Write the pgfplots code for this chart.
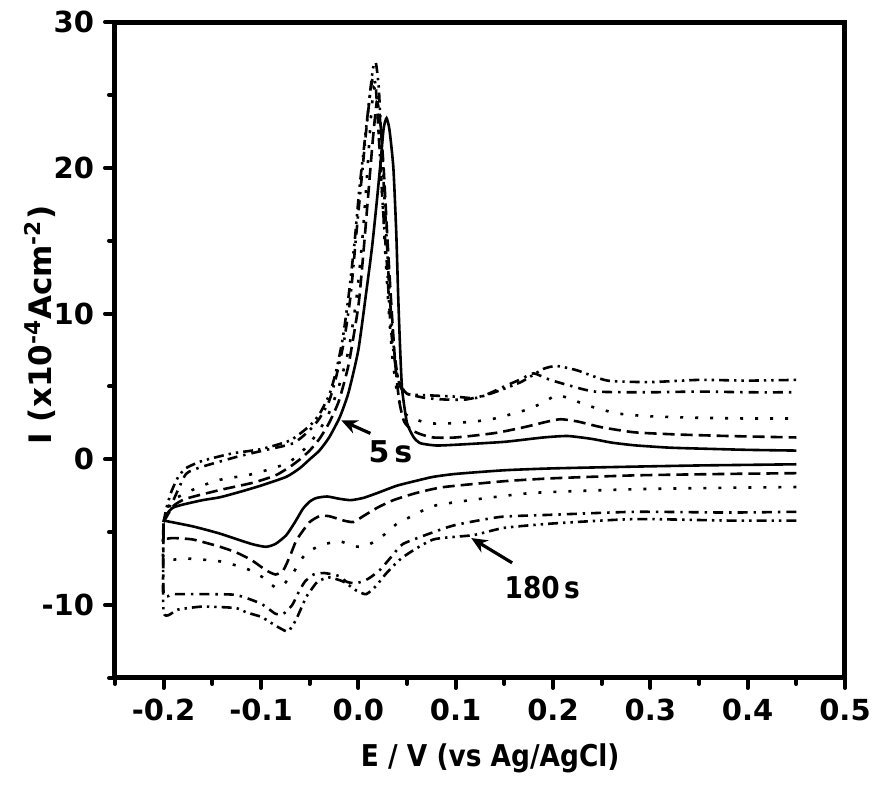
\documentclass[border=0pt]{standalone}
\usepackage{fontspec}
\setmainfont{DejaVu Sans}
\usepackage{graphicx}
\usepackage{pgfplots}
\pgfplotsset{compat=1.18}
\usetikzlibrary{arrows.meta}
\begin{document}
\begin{tikzpicture}
\begin{axis}[name=ax, scale only axis, width=365pt, height=328pt,
  xmin=-0.25, xmax=0.5, ymin=-15, ymax=30,
  axis line style={line width=2.5pt, line cap=round},
  tick pos=left, tick align=outside,
  xtick={-0.2,-0.1,0,0.1,0.2,0.3,0.4,0.5},
  xticklabels={-0.2,-0.1,0.0,0.1,0.2,0.3,0.4,0.5},
  minor xtick={-0.25,-0.15,-0.05,0.05,0.15,0.25,0.35,0.45},
  ytick={-10,0,10,20,30}, yticklabels={-10,0,10,20,30},
  minor ytick={-15,-5,5,15,25},
  major tick length=5pt, minor tick length=3pt,
  every tick/.style={line width=2pt, black, line cap=round},
  tick label style={font=\fontsize{14.5}{16}\selectfont\bfseries},
  xticklabel style={yshift=-2pt},
  yticklabel style={xshift=-2pt},
  xlabel={\scalebox{0.88}[1]{E / V (vs Ag/AgCl)}},
  xlabel style={at={(axis description cs:0.514,-0.122)}, anchor=center, font=\fontsize{15}{18}\selectfont\bfseries},
  ylabel={I (x10\textsuperscript{-4}Acm\textsuperscript{-2})},
  ylabel style={at={(axis description cs:-0.103,0.538)}, anchor=center, font=\fontsize{15.5}{18}\selectfont\bfseries},
  unbounded coords=jump,
  every axis plot/.append style={line width=1.3pt, black, smooth, tension=0.35},
]
% solid (5 s)
\addplot[solid] coordinates {
(-0.200,-4.2) (-0.195,-3.6) (-0.19,-3.3) (-0.18,-3.1) (-0.16,-2.8) (-0.142,-2.6) (-0.12,-2.2) (-0.10,-1.8) (-0.074,-1.2) (-0.06,-0.6) (-0.05,0.0) (-0.04,0.6) (-0.03,1.5) (-0.019,2.9) (-0.01,4.6) (0.0,7.5) (0.008,11.4) (0.014,14.5) (0.019,17.7) (0.023,20.5) (0.026,22.7) (0.029,23.4) (0.032,22.6) (0.036,20) (0.039,15.5) (0.041,11.1) (0.043,7.5) (0.045,4.8) (0.05,2.5) (0.057,1.5) (0.064,1.1) (0.08,0.95) (0.1,1.0) (0.15,1.2) (0.19,1.5) (0.215,1.6) (0.24,1.4) (0.26,1.15) (0.284,0.96) (0.32,0.8) (0.36,0.72) (0.40,0.65) (0.45,0.6)
(0.45,nan)
(0.45,-0.34) (0.40,-0.38) (0.35,-0.42) (0.284,-0.5) (0.2,-0.62) (0.15,-0.75) (0.1,-1.0) (0.077,-1.2) (0.064,-1.4) (0.04,-1.8) (0.02,-2.3) (0.005,-2.65) (-0.008,-2.8) (-0.02,-2.7) (-0.032,-2.55) (-0.043,-2.65) (-0.05,-2.9) (-0.057,-3.4) (-0.065,-4.3) (-0.074,-5.2) (-0.085,-5.8) (-0.095,-6.0) (-0.11,-5.8) (-0.142,-5.1) (-0.17,-4.6) (-0.2,-4.2)
};
% dashed
\addplot[dash pattern=on 6pt off 3pt] coordinates {
(-0.2,-4.3) (-0.19,-3.2) (-0.177,-2.7) (-0.142,-2.1) (-0.108,-1.6) (-0.085,-1.1) (-0.07,-0.5) (-0.06,0.0) (-0.05,0.6) (-0.04,1.4) (-0.03,2.5) (-0.02,4.0) (-0.01,6.5) (0.0,10.5) (0.005,14) (0.01,18) (0.015,22) (0.019,24.5) (0.022,23.5) (0.026,20) (0.03,15) (0.034,10.5) (0.038,6.5) (0.042,4.0) (0.047,2.6) (0.055,2.0) (0.065,1.7) (0.077,1.5) (0.1,1.5) (0.14,1.8) (0.17,2.2) (0.195,2.6) (0.208,2.75) (0.225,2.6) (0.25,2.2) (0.284,1.85) (0.33,1.7) (0.38,1.6) (0.45,1.5)
(0.45,nan)
(0.45,-0.95) (0.38,-1.0) (0.284,-1.1) (0.2,-1.3) (0.15,-1.5) (0.088,-1.9) (0.06,-2.3) (0.036,-2.8) (0.02,-3.3) (0.005,-3.9) (-0.005,-4.3) (-0.015,-4.2) (-0.03,-3.9) (-0.04,-3.9) (-0.05,-4.3) (-0.058,-5.0) (-0.064,-5.6) (-0.07,-6.6) (-0.077,-7.6) (-0.085,-7.9) (-0.095,-7.6) (-0.11,-6.9) (-0.125,-6.4) (-0.142,-6.0) (-0.17,-5.5) (-0.19,-5.4) (-0.2,-5.4) (-0.2,-4.3)
};
% dotted
\addplot[dash pattern=on 1.5pt off 6pt] coordinates {
(-0.2,-4.3) (-0.195,-3.2) (-0.188,-2.7) (-0.177,-2.3) (-0.16,-1.8) (-0.142,-1.4) (-0.108,-1.0) (-0.074,-0.3) (-0.06,0.4) (-0.05,1.1) (-0.04,2.0) (-0.03,3.2) (-0.02,5.0) (-0.01,7.5) (-0.002,11) (0.004,15) (0.009,19.5) (0.013,23.5) (0.016,25.5) (0.019,24.5) (0.023,20) (0.027,15) (0.031,10.5) (0.035,7) (0.04,4.5) (0.046,3.3) (0.053,2.9) (0.07,2.5) (0.088,2.45) (0.12,2.6) (0.14,2.8) (0.173,3.4) (0.19,3.9) (0.204,4.4) (0.22,4.1) (0.235,3.7) (0.266,3.15) (0.3,2.95) (0.35,2.85) (0.4,2.8) (0.45,2.8)
(0.45,nan)
(0.45,-1.9) (0.38,-1.95) (0.284,-2.05) (0.18,-2.3) (0.115,-2.8) (0.077,-3.2) (0.055,-3.9) (0.04,-4.4) (0.026,-5.2) (0.015,-5.7) (0.005,-6.0) (-0.005,-5.95) (-0.02,-5.6) (-0.033,-5.8) (-0.045,-6.1) (-0.053,-6.4) (-0.06,-7.0) (-0.067,-7.8) (-0.077,-8.6) (-0.085,-8.8) (-0.098,-8.1) (-0.115,-7.5) (-0.142,-7.0) (-0.177,-6.8) (-0.2,-6.8) (-0.2,-4.3)
};
% dash-dot
\addplot[dash pattern=on 5pt off 3pt on 1.2pt off 3pt] coordinates {
(-0.2,-4.3) (-0.196,-3.5) (-0.19,-2.8) (-0.177,-1.0) (-0.16,-0.5) (-0.126,0.15) (-0.098,0.6) (-0.067,1.1) (-0.05,2.0) (-0.04,2.8) (-0.03,4.0) (-0.023,5.6) (-0.015,8) (-0.008,11.2) (-0.002,15.5) (0.003,19) (0.008,22.5) (0.012,25) (0.015,26.2) (0.018,25.5) (0.022,21) (0.026,16.5) (0.029,13.8) (0.033,9.3) (0.038,6.5) (0.043,5.0) (0.05,4.5) (0.07,4.2) (0.09,4.1) (0.11,4.1) (0.13,4.4) (0.15,5.0) (0.167,5.5) (0.18,5.9) (0.195,5.5) (0.215,5.1) (0.243,4.65) (0.3,4.6) (0.35,4.65) (0.4,4.6) (0.45,4.6)
(0.45,nan)
(0.45,-3.6) (0.38,-3.65) (0.284,-3.6) (0.2,-3.8) (0.146,-3.95) (0.1,-4.5) (0.077,-5.0) (0.046,-5.8) (0.035,-6.6) (0.022,-7.6) (0.01,-8.2) (-0.002,-8.5) (-0.012,-8.4) (-0.02,-8.0) (-0.035,-7.8) (-0.046,-7.9) (-0.055,-8.4) (-0.062,-9.2) (-0.068,-10.0) (-0.077,-10.6) (-0.085,-10.6) (-0.1,-9.9) (-0.126,-9.3) (-0.16,-9.25) (-0.19,-9.25) (-0.2,-9.2) (-0.2,-4.3)
};
% dash-dot-dot (180 s)
\addplot[dash pattern=on 5pt off 2.5pt on 1.2pt off 2.5pt on 1.2pt off 2.5pt] coordinates {
(-0.2,-4.3) (-0.197,-3.3) (-0.192,-2.2) (-0.185,-1.2) (-0.177,-0.6) (-0.16,-0.1) (-0.13,0.4) (-0.1,0.7) (-0.07,1.3) (-0.05,2.3) (-0.04,3.1) (-0.03,4.4) (-0.023,6.0) (-0.016,8.3) (-0.01,11.2) (-0.004,14.8) (0.001,18.5) (0.006,21.5) (0.011,24.5) (0.015,26.8) (0.018,27.2) (0.021,25.5) (0.024,21.5) (0.028,16.5) (0.032,11.5) (0.036,8) (0.041,5.5) (0.05,4.5) (0.07,4.4) (0.1,4.3) (0.12,4.2) (0.14,4.6) (0.167,5.3) (0.19,6.2) (0.204,6.4) (0.225,6.1) (0.256,5.4) (0.3,5.3) (0.35,5.45) (0.4,5.4) (0.45,5.45)
(0.45,nan)
(0.45,-4.2) (0.38,-4.2) (0.284,-4.1) (0.2,-4.4) (0.15,-4.7) (0.118,-5.2) (0.077,-5.5) (0.046,-6.7) (0.029,-7.8) (0.018,-8.7) (0.008,-9.25) (-0.002,-9.0) (-0.015,-8.4) (-0.03,-8.1) (-0.042,-8.4) (-0.05,-9.1) (-0.054,-9.5) (-0.064,-11.0) (-0.072,-11.8) (-0.08,-11.6) (-0.09,-11.2) (-0.1,-10.8) (-0.115,-10.5) (-0.126,-10.2) (-0.16,-10.1) (-0.185,-10.3) (-0.2,-10.5) (-0.2,-4.3)
};
\node[font=\fontsize{15}{18}\selectfont\bfseries] at (axis cs:0.033,0.5) {5\,s};
\draw[line width=1.6pt, -{Stealth[length=8pt,width=7pt]}] (axis cs:0.0124,1.78) -- (axis cs:-0.0175,2.67);
\node[font=\fontsize{15}{18}\selectfont\bfseries] at (axis cs:0.189,-8.8) {\scalebox{0.88}[1]{180\,s}};
\draw[line width=1.6pt, -{Stealth[length=8pt,width=7pt]}] (axis cs:0.158,-7.1) -- (axis cs:0.116,-5.4);
\end{axis}
\pgfresetboundingbox
\path (ax.south west) ++(-57.5pt,-57.5pt) rectangle ++(437pt,396.5pt);
\end{tikzpicture}
\end{document}
